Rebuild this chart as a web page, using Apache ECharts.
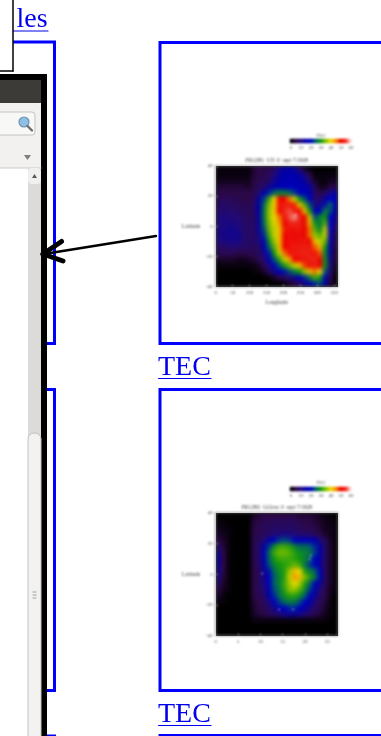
<!DOCTYPE html>
<html>
<head>
<meta charset="utf-8">
<title>TEC</title>
<script src="https://cdn.jsdelivr.net/npm/echarts@6/dist/echarts.min.js"></script>
<style>
	html, body { margin: 0; padding: 0; background: #fff; overflow: hidden; }
	#page { position: absolute; left: 0; top: 0; width: 381px; height: 736px; }
	.heatbox { position: absolute; overflow: hidden; background: #000; }
	.heat { width: 100%; height: 100%; filter: blur(2px); }
	.overlay { position: absolute; filter: blur(0.8px); }
</style>
</head>
<body>
<div id="page"></div>
<div class="heatbox" id="box1"><div class="heat" id="heat1"></div></div>
<div class="overlay" id="over1"></div>
<div class="heatbox" id="box2"><div class="heat" id="heat2"></div></div>
<div class="overlay" id="over2"></div>

<script type="text/javascript">
	// values, rows run from top (lat 40) to bottom (lat -40)
	var tecLongitude = [
		[1,1,1,1,1,1,1,4,5,5,6,8,12,14,15,13,9,3,1,0,0,0,0,0],
		[1,1,1,1,1,1,1,4,5,6,7,10,14,15,16,16,14,11,5,1,1,1,1,1],
		[2,2,2,2,2,2,2,5,6,6,8,12,15,16,17,17,16,14,9,3,1,1,2,3],
		[4,4,4,4,4,4,3,5,7,9,13,16,17,18,19,18,17,16,14,7,2,2,5,6],
		[5,5,5,5,5,5,5,6,9,16,22,26,28,28,26,23,19,18,16,8,5,8,12,14],
		[6,7,7,6,6,5,5,7,14,23,32,40,50,50,46,38,30,24,18,9,8,14,20,18],
		[8,8,8,7,7,6,6,8,15,26,35,41,52,54,53,49,42,33,24,11,12,21,26,18],
		[9,9,9,9,8,7,7,8,15,27,36,41,50,55,56,54,51,42,30,17,20,28,24,15],
		[10,11,10,10,10,8,7,8,14,27,36,40,46,52,56,58,54,50,38,24,28,30,20,13],
		[10,11,11,11,10,9,8,8,14,26,35,39,44,50,54,55,54,51,43,30,27,33,20,11],
		[11,11,12,12,11,9,8,8,13,24,34,38,42,49,52,52,53,50,46,33,28,38,18,9],
		[11,12,12,12,12,10,8,8,12,22,32,38,42,50,52,51,52,50,46,36,33,38,17,7],
		[10,11,11,12,11,9,8,8,10,19,29,36,42,50,52,52,52,53,50,42,38,34,16,6],
		[8,8,8,9,9,8,8,7,8,16,25,33,42,50,52,53,53,54,53,47,43,30,15,5],
		[6,6,6,6,5,5,6,6,7,12,21,30,38,46,52,53,54,54,54,52,47,28,14,4],
		[3,3,3,3,2,2,3,4,6,9,16,24,31,38,44,50,52,53,54,55,50,29,12,4],
		[1,1,1,1,1,1,1,1,3,6,11,18,24,30,34,38,42,48,52,54,50,30,11,3],
		[0,0,0,0,0,0,0,1,1,3,7,12,17,21,24,27,30,36,42,46,40,24,9,2],
		[0,0,0,0,0,0,0,0,0,0,1,3,5,7,9,13,17,22,27,32,30,18,6,1],
		[0,0,0,0,0,0,0,0,0,0,0,0,0,1,3,5,8,12,17,22,24,14,4,1]
	];
	var tecLocalTime = [
		[0,0,0,0,0,0,0,3,4,5,5,5,5,5,5,5,4,4,4,3,2,1,1,0],
		[1,1,0,0,0,0,0,4,5,6,6,7,7,7,7,7,6,5,5,4,3,2,1,1],
		[2,1,1,0,0,0,0,5,6,7,7,8,8,8,8,7,7,6,6,5,4,2,2,1],
		[3,2,1,0,0,0,0,5,6,7,8,10,11,11,11,10,9,9,8,7,5,3,2,1],
		[5,3,1,0,0,0,0,6,7,10,15,20,23,24,23,20,18,18,18,16,11,7,3,1],
		[9,4,1,0,0,0,0,6,8,15,23,29,32,32,31,28,26,26,25,22,14,8,3,1],
		[12,5,1,0,0,0,0,6,8,18,26,32,34,34,33,31,29,28,27,23,15,8,3,1],
		[14,5,1,0,0,0,0,6,8,17,25,30,32,32,32,31,30,28,25,20,14,8,3,1],
		[13,5,1,0,0,0,0,5,8,15,24,28,30,31,32,34,32,27,23,20,14,7,3,1],
		[12,5,1,0,0,0,0,5,7,13,21,26,29,31,36,42,40,31,28,25,18,7,3,1],
		[11,4,1,0,0,0,0,5,7,12,20,25,28,31,38,44,42,35,31,27,18,7,3,1],
		[8,3,1,0,0,0,0,5,7,11,19,25,28,32,36,40,37,31,26,20,13,7,3,1],
		[5,2,1,0,0,0,0,5,7,10,17,24,27,31,35,36,33,29,23,15,10,6,2,1],
		[3,1,0,0,0,0,0,5,6,8,15,22,26,29,31,31,29,25,19,13,8,5,2,0],
		[1,1,0,0,0,0,0,4,5,7,11,18,23,26,27,27,24,20,15,10,7,4,1,0],
		[0,0,0,0,0,0,0,3,5,6,8,12,17,20,22,22,19,16,11,8,6,3,1,0],
		[0,0,0,0,0,0,0,3,4,5,7,8,10,12,13,13,12,10,8,6,4,2,1,0],
		[0,0,0,0,0,0,0,1,1,1,1,1,1,1,1,1,1,1,1,1,1,1,0,0],
		[0,0,0,0,0,0,0,0,0,0,0,0,0,0,0,0,0,0,0,0,0,0,0,0],
		[0,0,0,0,0,0,0,0,0,0,0,0,0,0,0,0,0,0,0,0,0,0,0,0]
	];
	var stationsLongitude = [[236, 7.5]];
	var stationsLocalTime = [[21.3, 12.2], [21, 10], [10.4, 0.4], [14.2, -22.9], [17.3, -22.9]];
	var colorbarValues = [0,2,4,6,8,10,12,14,16,18,20,22,24,26,28,30,32,34,36,38,40,42,44,46,48,50,52,54,56,58,60];
	var tecColors = ['#000000','#2c0848','#220a78','#0000a8','#0000c4','#006068','#109810','#84c000','#eedc00','#f09000','#f00000','#f02818','#ffe4e4'];

	var serif = '"Liberation Serif", serif';
	var inkColor = '#3a3a3a';

	function heatCells(rows) {
		var cells = [];
		rows.forEach(function (row, r) {
			row.forEach(function (v, c) {
				cells.push([c, rows.length - 1 - r, v]);
			});
		});
		return cells;
	}

	function indexList(n) {
		var list = [];
		for (var i = 0; i < n; i++) list.push(i);
		return list;
	}

	function makeHeat(id, rows) {
		var chart = echarts.init(document.getElementById(id));
		chart.setOption({
			animation: false,
			grid: { left: 0, right: 0, top: 0, bottom: 0, outerBoundsMode: 'none' },
			xAxis: { type: 'category', show: false, data: indexList(rows[0].length) },
			yAxis: { type: 'category', show: false, data: indexList(rows.length) },
			visualMap: { show: false, min: 0, max: 60, inRange: { color: tecColors } },
			series: [{ type: 'heatmap', data: heatCells(rows), progressive: 0, emphasis: { disabled: true } }]
		});
	}

	// axes, title, station dots and colour bar of one panel
	function makeOverlay(id, p) {
		var chart = echarts.init(document.getElementById(id));
		chart.setOption({
			animation: false,
			title: [
				{ text: p.title, left: 50.7 + 61, top: p.titleTop, textAlign: 'center', padding: 0,
					textStyle: { fontFamily: serif, fontSize: 5.5, fontWeight: 'normal', color: inkColor } },
				{ text: 'TEC', left: 156, top: p.tecTop, textAlign: 'center', padding: 0,
					textStyle: { fontFamily: serif, fontSize: 5, fontWeight: 'normal', color: inkColor } }
			],
			grid: [
				{ left: 50.7, width: 122, top: p.plotTop, height: p.plotHeight, show: true, borderColor: '#777', borderWidth: 1, backgroundColor: 'transparent', outerBoundsMode: 'none' },
				{ left: 125, width: 62, top: 9, height: 4, outerBoundsMode: 'none' }
			],
			xAxis: [
				{ type: 'value', gridIndex: 0, min: 0, max: p.xMax, interval: p.xInterval, name: p.xName,
					nameLocation: 'middle', nameGap: 11,
					nameTextStyle: { fontFamily: serif, fontSize: 5.5, color: inkColor },
					axisLine: { onZero: false, lineStyle: { color: '#777' } },
					axisTick: { inside: true, length: 2, lineStyle: { color: '#aaa' } },
					axisLabel: { fontFamily: serif, fontSize: 5, color: inkColor, margin: 3, showMaxLabel: p.showMax },
					splitLine: { show: false } },
				{ type: 'category', gridIndex: 1, data: colorbarValues, position: 'bottom',
					axisLine: { show: false }, axisTick: { show: false },
					axisLabel: { interval: 4, fontFamily: serif, fontSize: 5, color: inkColor, margin: 2 } }
			],
			yAxis: [
				{ type: 'value', gridIndex: 0, min: -40, max: 40, interval: 20, name: 'Latitude',
					nameLocation: 'middle', nameRotate: 0, nameGap: 15,
					nameTextStyle: { fontFamily: serif, fontSize: 5.5, color: inkColor, padding: [0, 0, 28, 0] },
					axisLine: { onZero: false, lineStyle: { color: '#777' } },
					axisTick: { inside: true, length: 2, lineStyle: { color: '#aaa' } },
					axisLabel: { fontFamily: serif, fontSize: 5, color: inkColor, margin: 3 },
					splitLine: { show: false } },
				{ type: 'category', gridIndex: 1, data: [0], show: false }
			],
			visualMap: { show: false, seriesIndex: 1, min: 0, max: 60, inRange: { color: tecColors } },
			series: [
				{ type: 'scatter', xAxisIndex: 0, yAxisIndex: 0, data: p.stations, symbolSize: 2,
					itemStyle: { color: p.dotColor } },
				{ type: 'heatmap', xAxisIndex: 1, yAxisIndex: 1, progressive: 0,
					data: colorbarValues.map(function (v, i) { return [i, 0, v]; }) }
			]
		});
	}

	function placePanel(n, plotLeft, plotTop, plotW, plotH, overLeft, overTop, overW, overH) {
		var box = document.getElementById('box' + n);
		box.style.left = plotLeft + 'px';
		box.style.top = plotTop + 'px';
		box.style.width = plotW + 'px';
		box.style.height = plotH + 'px';
		var over = document.getElementById('over' + n);
		over.style.left = overLeft + 'px';
		over.style.top = overTop + 'px';
		over.style.width = overW + 'px';
		over.style.height = overH + 'px';
	}

	placePanel(1, 215.7, 166, 122, 120.7, 165, 130, 205, 180);
	placePanel(2, 215.7, 512.7, 122, 123, 165, 478, 205, 170);

	makeHeat('heat1', tecLongitude);
	makeHeat('heat2', tecLocalTime);

	makeOverlay('over1', {
		title: 'PR12H1  UT: 0  sept 7/1928', titleTop: 28, tecTop: 3, plotTop: 36, plotHeight: 120.7,
		xMax: 360, xInterval: 50, xName: 'Longitude', showMax: false, stations: stationsLongitude, dotColor: 'rgba(255,190,190,0.9)'
	});
	makeOverlay('over2', {
		title: 'PR12H2  GGlon: 0  sept 7/1928', titleTop: 27, tecTop: 2, plotTop: 34.7, plotHeight: 123,
		xMax: 27.3, xInterval: 5, xName: 'UT', showMax: false, stations: stationsLocalTime, dotColor: 'rgba(190,190,255,0.85)'
	});

	// the page around the plots: link frames, captions, browser window, arrow
	var blue = '#0000ff';
	var linkBlue = '#0000ee';

	function frame(x, y, w, h) {
		return { type: 'rect', shape: { x: x, y: y, width: w, height: h }, style: { fill: 'none', stroke: blue, lineWidth: 3 } };
	}
	function box(x, y, w, h, fill, r) {
		return { type: 'rect', shape: { x: x, y: y, width: w, height: h, r: r || 0 }, style: { fill: fill } };
	}
	function caption(text, x, baseline) {
		return { type: 'text', x: x, y: baseline - 22, style: { text: text, font: '28px ' + serif, fill: linkBlue } };
	}
	function rule(x1, y1, x2, y2, color, width) {
		return { type: 'line', shape: { x1: x1, y1: y1, x2: x2, y2: y2 }, style: { stroke: color, lineWidth: width, lineCap: 'round' } };
	}

	var page = echarts.init(document.getElementById('page'));
	page.setOption({
		animation: false,
		graphic: { elements: [
			frame(-20, 42, 74.5, 301.5),
			frame(-20, 389.5, 74.5, 301),
			frame(-20, 736, 74.5, 30),
			frame(160, 42.5, 300, 301),
			frame(160, 389.5, 300, 301),
			frame(160, 735.5, 300, 30),
			caption('TEC', 158, 376),
			rule(158.5, 378.5, 211, 378.5, linkBlue, 1.2),
			caption('TEC', 158, 723),
			rule(158.5, 725.5, 211, 725.5, linkBlue, 1.2),
			caption('les', 16.5, 28),
			rule(13, 31, 48, 31, linkBlue, 1.2),
			// covering window at the top left
			box(-5, -5, 18, 76, '#fff'),
			rule(13, -2, 13, 71, '#000', 1.5),
			rule(-2, 71, 13, 71, '#000', 1.5),
			// browser window
			box(-2, 74, 49, 670, '#000'),
			box(-2, 80, 43, 23, '#3c3b37'),
			box(-2, 103, 43, 65, '#f2f1f0'),
			box(-6, 112, 41, 23, '#f8f8f7', 3),
			{ type: 'rect', shape: { x: -6, y: 112, width: 41, height: 23, r: 3 }, style: { fill: 'none', stroke: '#c4c4c2', lineWidth: 1 } },
			{ type: 'circle', shape: { cx: 24, cy: 122, r: 5 }, style: { fill: '#8fc0e4', stroke: '#6d92b0', lineWidth: 1.2 } },
			rule(27.5, 126, 32, 130.5, '#6e6e6e', 2.4),
			{ type: 'polygon', shape: { points: [[24, 155], [31, 155], [27.5, 160]] }, style: { fill: '#7e7e7e' } },
			box(-2, 168, 43, 570, '#ffffff'),
			rule(-2, 168, 41, 168, '#c9c9c7', 1),
			box(28, 168, 13, 570, '#dddbd9'),
			box(28, 168, 13, 16, '#f1f0ef', 4),
			{ type: 'polygon', shape: { points: [[32, 178], [37, 178], [34.5, 174]] }, style: { fill: '#5a5a5a' } },
			box(28, 433, 13, 310, '#f3f2f1', 6),
			{ type: 'rect', shape: { x: 28, y: 433, width: 13, height: 310, r: 6 }, style: { fill: 'none', stroke: '#c2c1bf', lineWidth: 1 } },
			rule(33, 592, 36, 592, '#8c8c8c', 0.8),
			rule(33, 595, 36, 595, '#8c8c8c', 0.8),
			rule(33, 598, 36, 598, '#8c8c8c', 0.8),
			// arrow
			rule(156, 236, 44, 254, '#000', 2.4),
			rule(61.5, 241.5, 43, 254, '#000', 5),
			rule(43, 254, 63, 261, '#000', 5)
		] }
	});
</script>
</body>
</html>
